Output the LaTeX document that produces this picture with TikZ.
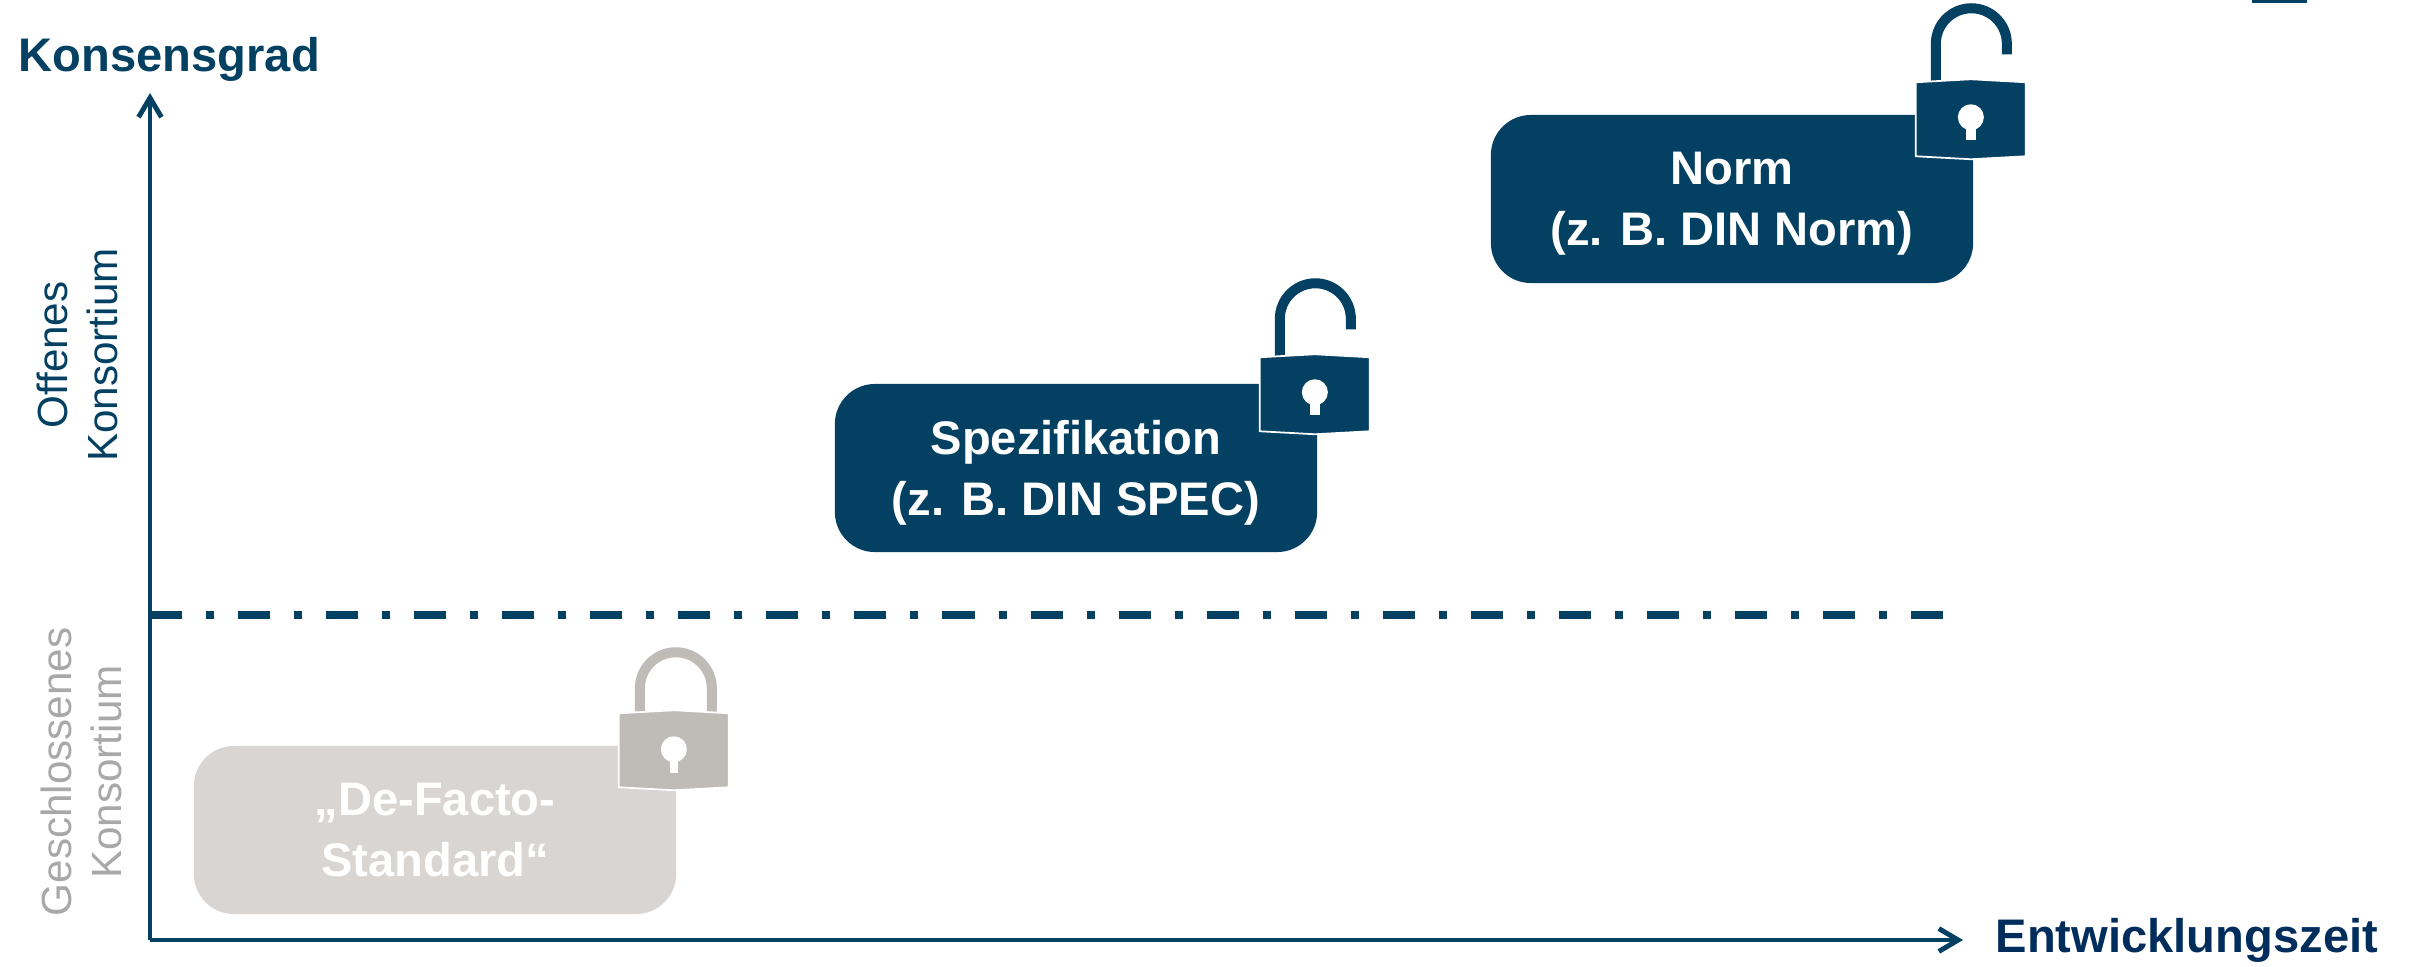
\documentclass[tikz,border=0pt]{standalone}
\usepackage{fontspec}
\setmainfont{Liberation Sans}
\usetikzlibrary{arrows.meta}
\definecolor{dinblue}{RGB}{3,64,98}
\definecolor{navytext}{RGB}{0,45,92}
\definecolor{boxgray}{RGB}{217,213,210}
\definecolor{lockgray}{RGB}{191,187,183}
\definecolor{labelgray}{RGB}{168,168,168}
\tikzset{
  stdbox/.style={rounded corners=0.4cm, minimum width=4.82cm, minimum height=1.68cm, inner sep=0pt, align=center, text=white, font=\fontsize{13.4}{17.3}\selectfont\bfseries},
  axisline/.style={draw=dinblue, line width=1.4pt, -{Straight Barb[length=5.5pt,width=6.5pt]}},
  axistitle/.style={inner sep=0pt, font=\fontsize{13.4}{16}\selectfont\bfseries},
  sidelabel/.style={rotate=90, inner sep=0pt, align=center, font=\fontsize{12}{14.2}\selectfont},
  dashdotline/.style={draw=dinblue, line width=2.3pt, dash pattern=on 0.32cm off 0.24cm on 0.08cm off 0.24cm},
  shackle/.style={line width=2.85pt},
  lockbody/.style={draw=white, line width=0.5pt},
}
\begin{document}
\begin{tikzpicture}[x=0.01cm,y=-0.01cm]%
\useasboundingbox (0,0) rectangle (2412,966);%
\fill[dinblue] (2252,0) rectangle (2307,3);%
%
\coordinate (origin) at (150,940);%
\coordinate (ytip) at (150,93);%
\coordinate (xtip) at (1963,940);%
\coordinate (sepL) at (150,615);%
\coordinate (sepR) at (1944,615);%
\draw[dashdotline] (sepL) -- (sepR);%
\draw[axisline] (origin) -- (ytip);%
\draw[axisline] (origin) -- (xtip);%
\node[axistitle, text=dinblue, anchor=base west] (ylabel) at (18,71) {Konsensgrad};%
\node[axistitle, text=navytext, anchor=base west] (xlabel) at (1995,952) {Entwicklungszeit};%
\node[sidelabel, text=dinblue] (offen) at (77,355) {Offenes\\Konsortium};%
\node[sidelabel, text=labelgray] (geschlossen) at (81,772) {Geschlossenes\\Konsortium};%
%
\node[stdbox, fill=boxgray] (defacto) at (435,830) {„De-Facto-\\Standard“};%
\node[stdbox, fill=dinblue] (spec) at (1076,468) {Spezifikation\\\smash{(z. B. DIN SPEC)}};%
\node[stdbox, fill=dinblue] (norm) at (1732,199) {Norm\\\smash{(z. B. DIN Norm)}};%
%
\def\lockColor{lockgray};%
\begin{scope}[shift={(defacto.north east)}]%
\draw[shackle, draw=\lockColor] (35,-33) -- (35,-57) arc (0:-180:36) -- (-37,-33);%
\filldraw[lockbody, fill=\lockColor] (-58,-32) -- (-3,-35) -- (52,-32) -- (52,42) -- (-3,45) -- (-58,42) -- cycle;%
\fill[white] (-3,4) circle (13);%
\fill[white] (-7,4) rectangle (1,28);%
\end{scope}%
%
\def\lockColor{dinblue};%
\begin{scope}[shift={(spec.north east)}, yshift=-0.06cm]%
\draw[shackle, draw=\lockColor] (33,-60) -- (33,-70.5) arc (0:-180:35.5) -- (-38,-33);%
\filldraw[lockbody, fill=\lockColor] (-58,-32) -- (-3,-35) -- (52,-32) -- (52,42) -- (-3,45) -- (-58,42) -- cycle;%
\fill[white] (-3,3) circle (13);%
\fill[white] (-8,3) rectangle (2,26);%
\end{scope}%
%
\def\lockColor{dinblue};%
\begin{scope}[shift={(norm.north east)}]%
\draw[shackle, draw=\lockColor] (33,-60) -- (33,-70.5) arc (0:-180:35.5) -- (-38,-33);%
\filldraw[lockbody, fill=\lockColor] (-58,-32) -- (-3,-35) -- (52,-32) -- (52,42) -- (-3,45) -- (-58,42) -- cycle;%
\fill[white] (-3,3) circle (13);%
\fill[white] (-8,3) rectangle (2,26);%
\end{scope}%
\end{tikzpicture}
\end{document}
